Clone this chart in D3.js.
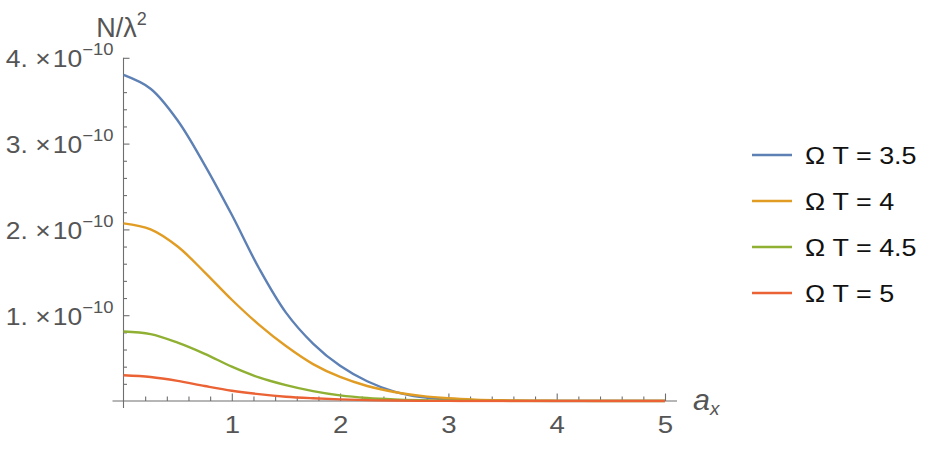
<!DOCTYPE html>
<html>
<head>
<meta charset="utf-8">
<script src="https://cdn.jsdelivr.net/npm/d3@7"></script>
<style>
  html, body { margin: 0; padding: 0; background: #fff; }
  svg { display: block; font-family: "Liberation Sans", Arial, sans-serif; }
</style>
</head>
<body>
<svg id="chart" width="932" height="449"></svg>
<script>
// ---- data (values in units of 1e-10) ----
const xs = [0, 0.25, 0.5, 0.75, 1, 1.25, 1.5, 1.75, 2, 2.25, 2.5, 2.75, 3, 3.25, 3.5, 3.75, 4, 4.25, 4.5, 4.75, 5];
const seriesNames = ["Ω T = 3.5", "Ω T = 4", "Ω T = 4.5", "Ω T = 5"];
const seriesColors = ["#5E81B5", "#E19C24", "#8FB032", "#EB6235"];
const blueVals   = [3.80, 3.64, 3.27, 2.75, 2.17, 1.55, 1.03, 0.67, 0.41, 0.23, 0.11, 0.045, 0.018, 0.006, 0.002, 0.001, 0, 0, 0, 0, 0];
const orangeVals = [2.07, 2.00, 1.80, 1.50, 1.18, 0.89, 0.64, 0.43, 0.28, 0.175, 0.105, 0.06, 0.032, 0.016, 0.008, 0.004, 0.002, 0.001, 0, 0, 0];
const greenVals  = [0.81, 0.78, 0.68, 0.55, 0.40, 0.275, 0.185, 0.115, 0.065, 0.035, 0.018, 0.009, 0.004, 0.002, 0.001, 0, 0, 0, 0, 0, 0];
const redVals    = [0.30, 0.28, 0.235, 0.175, 0.12, 0.08, 0.05, 0.032, 0.019, 0.01, 0.005, 0.002, 0.001, 0, 0, 0, 0, 0, 0, 0, 0];
const allVals = [blueVals, orangeVals, greenVals, redVals];
const xTickVals = [1, 2, 3, 4, 5];
const xTickLabels = ["1", "2", "3", "4", "5"];
const yTickVals = [1, 2, 3, 4];
const yTickLabels = ["1.", "2.", "3.", "4."];
const yExp = "−10";
const yLabel = "N/λ";
const xLabel = "a";

// ---- layout ----
const svg = d3.select("#chart");
const x = d3.scaleLinear().domain([0, 5]).range([123.5, 665]);
const y = d3.scaleLinear().domain([0, 4]).range([401, 57.8]);
const axisColor = "#6e6e6e";
const labelColor = "#555555";
const SX = 1.15;

// axis lines (extended like Mathematica)
svg.append("line").attr("x1", x(0) - 11).attr("x2", x(5) + 12)
  .attr("y1", y(0)).attr("y2", y(0)).attr("stroke", axisColor).attr("stroke-width", 1.1);
svg.append("line").attr("x1", x(0)).attr("x2", x(0))
  .attr("y1", y(0) + 7).attr("y2", y(4)).attr("stroke", axisColor).attr("stroke-width", 1.1);

// x ticks
const xMinor = d3.range(1, 26).map(i => i * 0.2).filter(v => Math.abs(v - Math.round(v)) > 1e-6);
const gxm = svg.append("g").attr("transform", `translate(0,${y(0)})`)
  .call(d3.axisBottom(x).tickValues(xMinor).tickSize(-4.5).tickFormat(() => ""));
const gx = svg.append("g").attr("transform", `translate(0,${y(0)})`)
  .call(d3.axisBottom(x).tickValues(xTickVals).tickSize(-7.5).tickFormat(() => ""));
[gxm, gx].forEach(g => {
  g.select(".domain").remove();
  g.selectAll(".tick line").attr("stroke", axisColor).attr("stroke-width", 1.1);
});
gx.selectAll(".tick").append("text")
  .attr("transform", `translate(0,32) scale(${SX},1)`)
  .attr("text-anchor", "middle").attr("fill", labelColor)
  .attr("font-size", 24)
  .text((d, i) => xTickLabels[i]);

// y ticks
const yMinor = d3.range(1, 21).map(i => i * 0.2).filter(v => Math.abs(v - Math.round(v)) > 1e-6);
const gym = svg.append("g").attr("transform", `translate(${x(0)},0)`)
  .call(d3.axisLeft(y).tickValues(yMinor).tickSize(-3.5).tickFormat(() => ""));
const gy = svg.append("g").attr("transform", `translate(${x(0)},0)`)
  .call(d3.axisLeft(y).tickValues(yTickVals).tickSize(-6).tickFormat(() => ""));
[gym, gy].forEach(g => {
  g.select(".domain").remove();
  g.selectAll(".tick line").attr("stroke", axisColor).attr("stroke-width", 1.1);
});
const yt = gy.selectAll(".tick").append("text")
  .attr("transform", `translate(-10,9) scale(${SX},1)`)
  .attr("text-anchor", "end").attr("fill", labelColor)
  .attr("font-size", 23);
yt.append("tspan").text((d, i) => yTickLabels[i] + " ×\u200A10");
yt.append("tspan").attr("font-size", 16).attr("dy", -12).text(yExp);

// axis labels
const yl = svg.append("text")
  .attr("transform", `translate(${x(0) - 2},37)`)
  .attr("text-anchor", "middle").attr("fill", labelColor).attr("font-size", 27);
yl.append("tspan").text(yLabel);
yl.append("tspan").attr("font-size", 18).attr("dy", -12).text("2");

const xl = svg.append("text")
  .attr("transform", `translate(693,410) scale(1.05,1)`)
  .attr("fill", labelColor).attr("font-size", 29);
xl.append("tspan").attr("font-style", "italic").text(xLabel);
xl.append("tspan").attr("font-size", 18).attr("font-style", "italic").attr("dy", 5).text("x");

// curves
const line = d3.line()
  .x((d, i) => x(xs[i]))
  .y(d => y(d))
  .curve(d3.curveCatmullRom.alpha(0.5));
svg.append("clipPath").attr("id", "clip").append("rect")
  .attr("x", x(0) - 1).attr("y", 0).attr("width", x(5) - x(0) + 2).attr("height", y(0) + 1.5);
const gLines = svg.append("g").attr("clip-path", "url(#clip)");
allVals.forEach((vals, k) => {
  gLines.append("path").datum(vals)
    .attr("d", line)
    .attr("fill", "none")
    .attr("stroke", seriesColors[k])
    .attr("stroke-width", 2.4)
    .attr("stroke-linejoin", "round");
});

// legend
const legY = [155, 201, 247, 293];
const leg = svg.append("g");
seriesNames.forEach((name, k) => {
  leg.append("line").attr("x1", 752).attr("x2", 792)
    .attr("y1", legY[k]).attr("y2", legY[k])
    .attr("stroke", seriesColors[k]).attr("stroke-width", 2.4);
  leg.append("text")
    .attr("transform", `translate(805,${legY[k] + 8.5}) scale(1.17,1)`)
    .attr("font-size", 23).attr("fill", "#111")
    .text(name);
});
</script>
</body>
</html>
